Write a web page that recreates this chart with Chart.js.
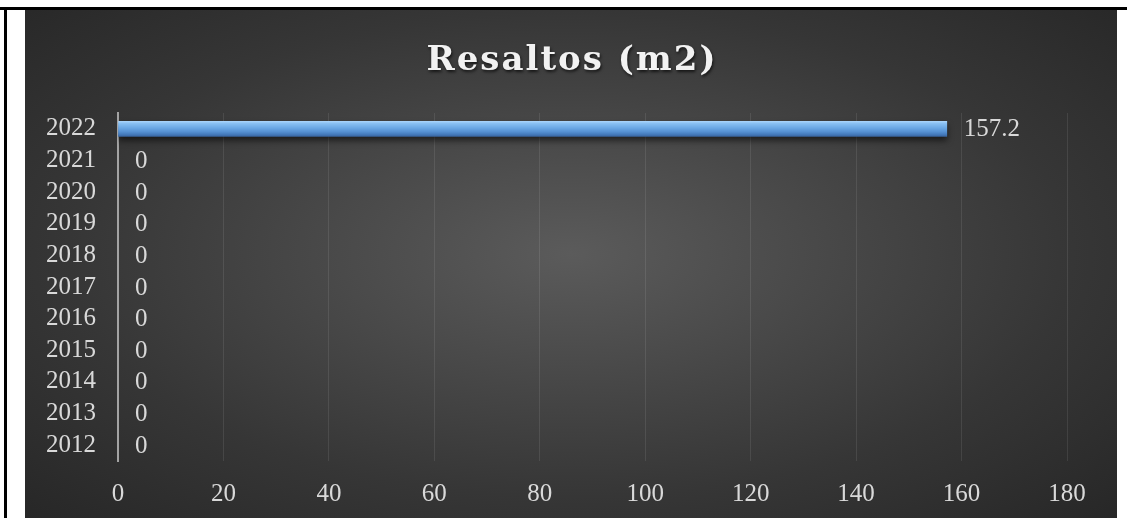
<!DOCTYPE html>
<html>
<head>
<meta charset="utf-8">
<title>Resaltos (m2)</title>
<script src="https://cdn.jsdelivr.net/npm/chart.js@4.4.1/dist/chart.umd.min.js"></script>
<style>
    html, body { margin: 0; padding: 0; background: #ffffff; }
    body { width: 1127px; height: 518px; position: relative; overflow: hidden; }
    .rule-top { position: absolute; left: 0; top: 7px; width: 1127px; height: 3px; background: #000; }
    .rule-left { position: absolute; left: 4px; top: 7px; width: 3px; height: 511px; background: #000; }
    #chartBox {
        position: absolute; left: 25px; top: 10px; width: 1092px; height: 508px;
        background: radial-gradient(ellipse farthest-corner at 50% 48%, #5b5b5b 0%, #4a4a4a 30%, #363636 65%, #272727 100%);
    }
</style>
</head>
<body>
<div class="rule-top"></div>
<div class="rule-left"></div>
<div id="chartBox"><canvas id="resaltosChart" width="1092" height="508"></canvas></div>

<script>
// chart data
const chartTitle = 'Resaltos (m2)';
const years = ['2022', '2021', '2020', '2019', '2018', '2017', '2016', '2015', '2014', '2013', '2012'];
const areaValues = [157.2, 0, 0, 0, 0, 0, 0, 0, 0, 0, 0];
const xTicks = [0, 20, 40, 60, 80, 100, 120, 140, 160, 180];

const textColor = '#d9d9d9';
const serif = "'Liberation Serif', 'DejaVu Serif', serif";
const tickSize = 25;

// title drawn by hand so we get letter spacing + shadow
const titlePlugin = {
    id: 'fancyTitle',
    afterDraw(chart) {
        const ctx = chart.ctx;
        const spacing = 2;
        ctx.save();
        ctx.font = "bold 34px 'DejaVu Serif', serif";
        ctx.letterSpacing = spacing + 'px';
        ctx.textAlign = 'center';
        ctx.textBaseline = 'alphabetic';
        ctx.shadowColor = 'rgba(0, 0, 0, 0.65)';
        ctx.shadowOffsetX = 1;
        ctx.shadowOffsetY = 2;
        ctx.shadowBlur = 3;
        ctx.fillStyle = '#f2f2f2';
        ctx.fillText(chartTitle, chart.width / 2 + spacing / 2, 60);
        ctx.restore();
    }
};

// soft shadow under the bars
const barShadow = {
    id: 'barShadow',
    beforeDatasetDraw(chart) {
        const ctx = chart.ctx;
        ctx.save();
        ctx.shadowColor = 'rgba(0, 0, 0, 0.55)';
        ctx.shadowOffsetY = 4;
        ctx.shadowBlur = 6;
    },
    afterDatasetDraw(chart) {
        chart.ctx.restore();
    }
};

// value labels just past the end of each bar
const valueLabels = {
    id: 'valueLabels',
    afterDatasetsDraw(chart) {
        const ctx = chart.ctx;
        const meta = chart.getDatasetMeta(0);
        ctx.save();
        ctx.font = tickSize + "px " + serif;
        ctx.fillStyle = textColor;
        ctx.textAlign = 'left';
        ctx.textBaseline = 'middle';
        meta.data.forEach((bar, i) => {
            const v = chart.data.datasets[0].data[i];
            ctx.fillText(String(v), bar.x + 17, bar.y + 1);
        });
        ctx.restore();
    }
};

function barGradient(context) {
    const chart = context.chart;
    if (!context.raw) return 'rgba(0,0,0,0)';
    const yScale = chart.scales.y;
    if (!yScale || yScale.top === undefined) return '#5b9bd5';
    const cy = yScale.getPixelForValue(context.dataIndex);
    const g = chart.ctx.createLinearGradient(0, cy - 7.5, 0, cy + 7.5);
    g.addColorStop(0, '#a8d4fb');
    g.addColorStop(0.15, '#88bff2');
    g.addColorStop(0.45, '#6aa7e4');
    g.addColorStop(0.7, '#5590d2');
    g.addColorStop(0.9, '#4277b8');
    g.addColorStop(1, '#3a66a0');
    return g;
}

new Chart(document.getElementById('resaltosChart'), {
    type: 'bar',
    data: {
        labels: years,
        datasets: [{
            label: chartTitle,
            data: areaValues,
            backgroundColor: barGradient,
            borderWidth: 0,
            barThickness: 15
        }]
    },
    plugins: [barShadow, valueLabels, titlePlugin],
    options: {
        indexAxis: 'y',
        responsive: false,
        animation: false,
        layout: {
            padding: { top: 103, right: 50, left: 0, bottom: 0 }
        },
        plugins: {
            legend: { display: false },
            title: { display: false },
            tooltip: { enabled: false }
        },
        scales: {
            x: {
                min: xTicks[0],
                max: xTicks[xTicks.length - 1],
                afterBuildTicks(scale) {
                    scale.ticks = xTicks.map(v => ({ value: v }));
                },
                afterFit(scale) { scale.height = 57; },
                grid: {
                    color: 'rgba(255, 255, 255, 0.09)',
                    lineWidth: 1,
                    drawTicks: false
                },
                border: { display: false },
                ticks: {
                    color: textColor,
                    font: { family: serif, size: tickSize },
                    padding: 18
                }
            },
            y: {
                afterFit(scale) { scale.width = 93; },
                grid: { display: false, drawTicks: false },
                border: { display: true, color: '#a3a3a3', width: 2 },
                ticks: {
                    color: textColor,
                    font: { family: serif, size: tickSize },
                    padding: 22,
                    autoSkip: false
                }
            }
        }
    }
});
</script>
</body>
</html>
